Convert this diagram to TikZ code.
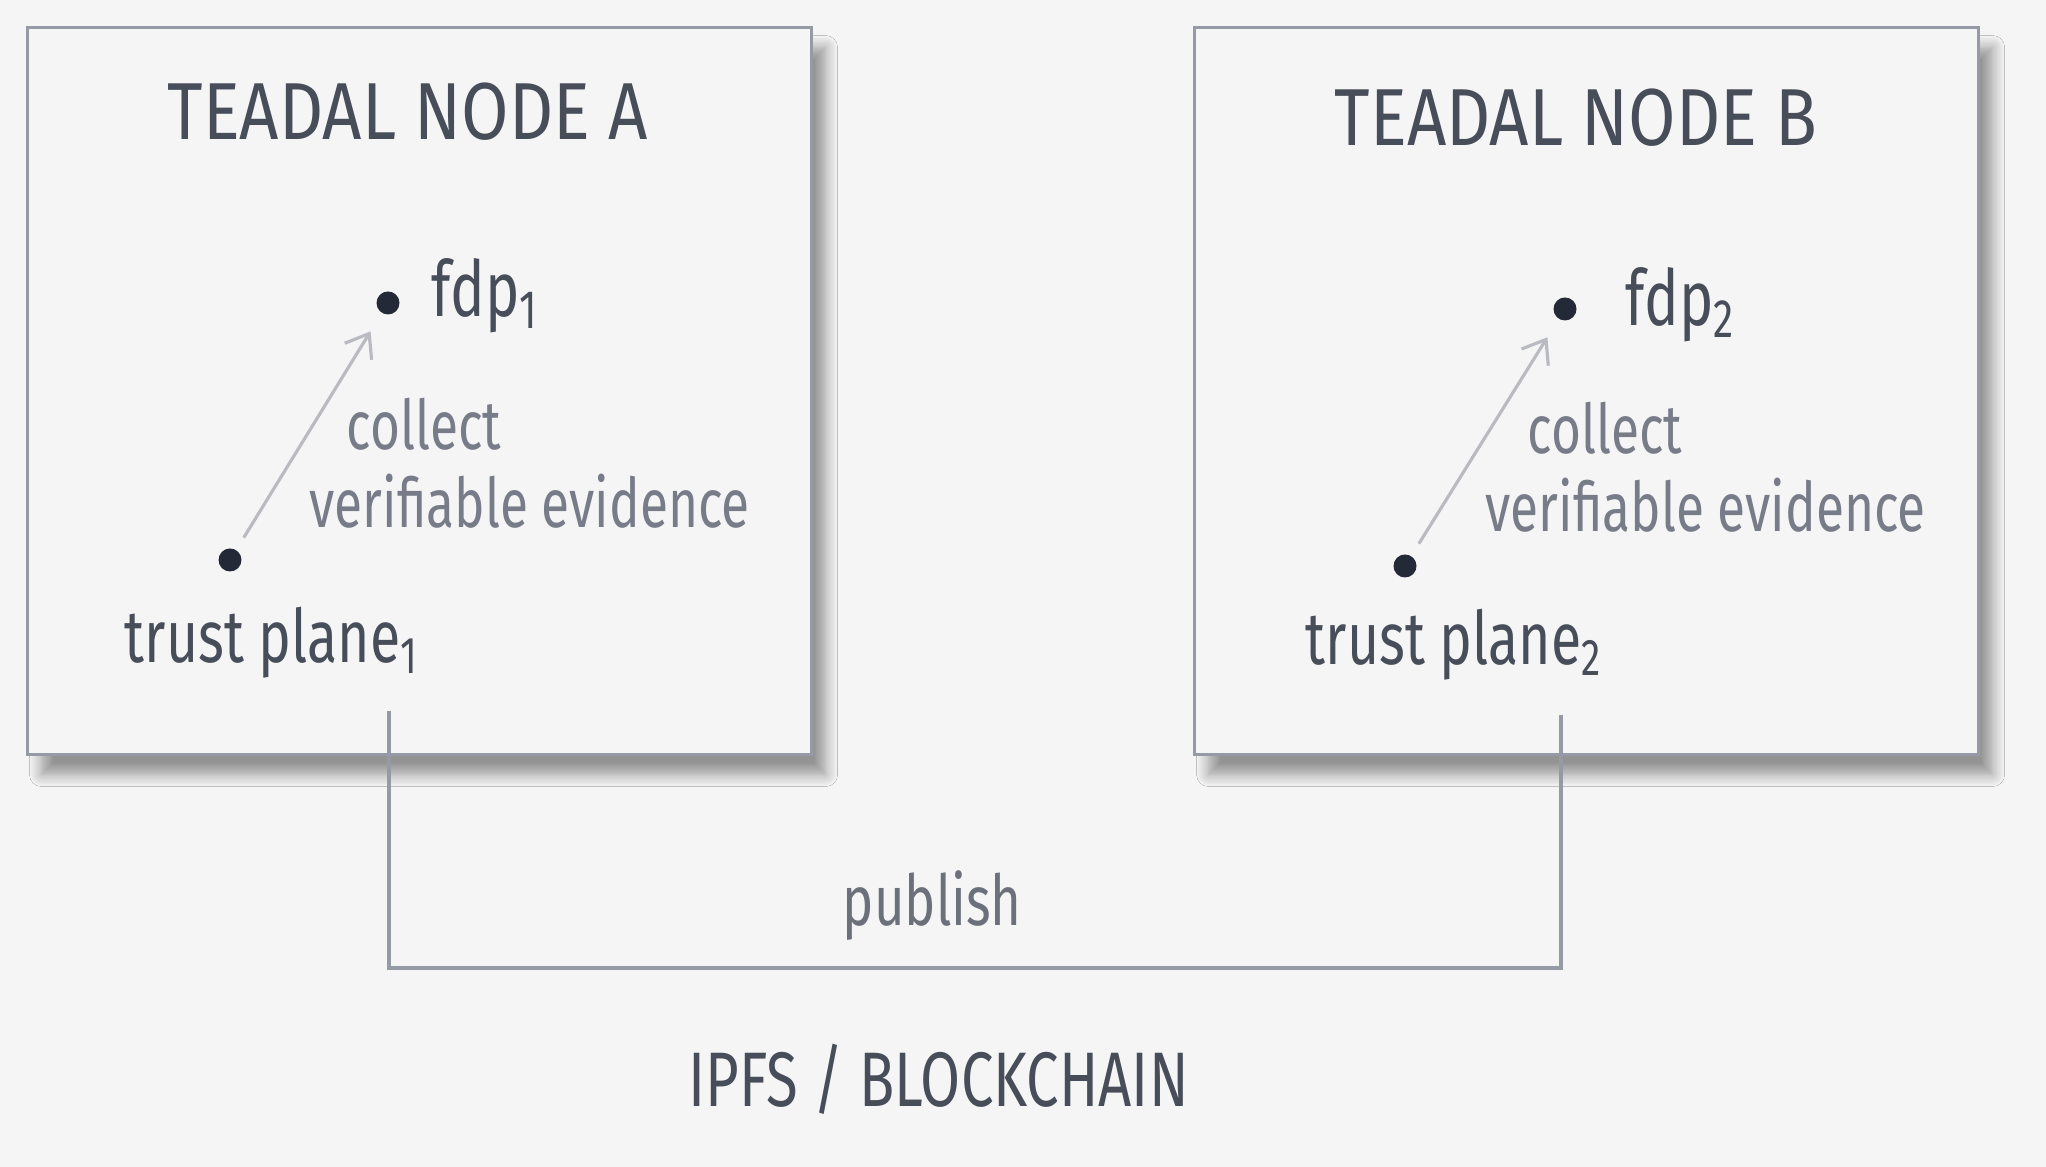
\documentclass[tikz,border=0pt]{standalone}
\usepackage{fontspec}
\setmainfont{Fira Sans}[FakeStretch=0.75]
\newfontfamily\titlehand{Fira Sans}[FakeStretch=0.85]
\usepackage{xcolor}
\usepackage{tikz}
\definecolor{paper}{RGB}{245,245,246}
\definecolor{frame}{RGB}{150,154,164}
\definecolor{pencil}{RGB}{72,77,90}
\definecolor{softpencil}{RGB}{120,124,136}
\definecolor{dotink}{RGB}{36,41,56}
\definecolor{arrowgray}{RGB}{185,187,193}
\usetikzlibrary{shadows.blur,arrows.meta,positioning}

\begin{document}
\begin{tikzpicture}[
    nodebox/.style={draw=frame, line width=0.9pt, fill=paper, minimum width=7.84cm,
        minimum height=7.27cm, anchor=north west,
        blur shadow={shadow xshift=0.14cm, shadow yshift=-0.2cm, shadow opacity=40,
            shadow blur radius=0.12cm, shadow blur steps=10}},
    title/.style={text=pencil, font=\titlehand\fontsize{23}{26}\selectfont, anchor=base west, inner sep=0pt},
    tplabel/.style={text=pencil, font=\fontsize{21}{24}\selectfont, anchor=base west, inner sep=0pt},
    note/.style={text=softpencil, font=\fontsize{19.5}{22}\selectfont, anchor=base west, inner sep=0pt},
    pt/.style={circle, fill=dotink, inner sep=0pt, minimum size=0.23cm},
    evid/.style={draw=arrowgray, line width=0.9pt, -{Straight Barb[length=6pt,width=9pt]}, shorten <=4pt, shorten >=6pt},
    wire/.style={draw=frame, line width=0.9pt}]
    % Paper
    \fill[paper] (0,0) rectangle (20.46,11.67);
    \useasboundingbox (0,0) rectangle (20.46,11.67);

    % Teadal nodes
    \node[nodebox] (nodeA) at (0.26,11.41) {};
    \node[nodebox] (nodeB) at (11.93,11.41) {};
    \node[title] (titleA) at (1.67,10.27) {TEADAL NODE A};
    \node[title] (titleB) at (13.34,10.21) {TEADAL NODE B};

    % Node A contents
    \node[pt] (fdpA) at (3.88,8.64) {};
    \node[pt] (tpA) at (2.30,6.07) {};
    \node[tplabel, font=\fontsize{22}{24}\selectfont] (fdpAlbl) at (4.31,8.50) {fdp\textsubscript{1}};
    \node[tplabel] (tpAlbl) at (1.24,5.04) {trust plane\textsubscript{1}};
    \node[note] (collA) at (3.46,7.17) {collect};
    \node[note] (evidA) at (3.09,6.39) {verifiable evidence};
    \draw[evid] (tpA) -- (fdpA);

    % Node B contents
    \node[pt] (fdpB) at (15.65,8.58) {};
    \node[pt] (tpB) at (14.05,6.01) {};
    \node[tplabel, font=\fontsize{22}{24}\selectfont] (fdpBlbl) at (16.25,8.41) {fdp\textsubscript{2}};
    \node[tplabel] (tpBlbl) at (13.05,5.02) {trust plane\textsubscript{2}};
    \node[note] (collB) at (15.27,7.13) {collect};
    \node[note] (evidB) at (14.85,6.35) {verifiable evidence};
    \draw[evid] (tpB) -- (fdpB);

    % Publish link
    \coordinate (pubA) at (3.89,4.56);
    \coordinate (pubB) at (15.61,4.52);
    \draw[wire] (pubA) |- (15.61,1.99) -- (pubB);
    \node[note, text=softpencil!90!black, font=\fontsize{20}{22}\selectfont] (pub) at (8.42,2.41) {publish};
    \node[title, font=\fontsize{22}{26}\selectfont] (ledger) at (6.88,0.60) {IPFS / BLOCKCHAIN};
\end{tikzpicture}
\end{document}
